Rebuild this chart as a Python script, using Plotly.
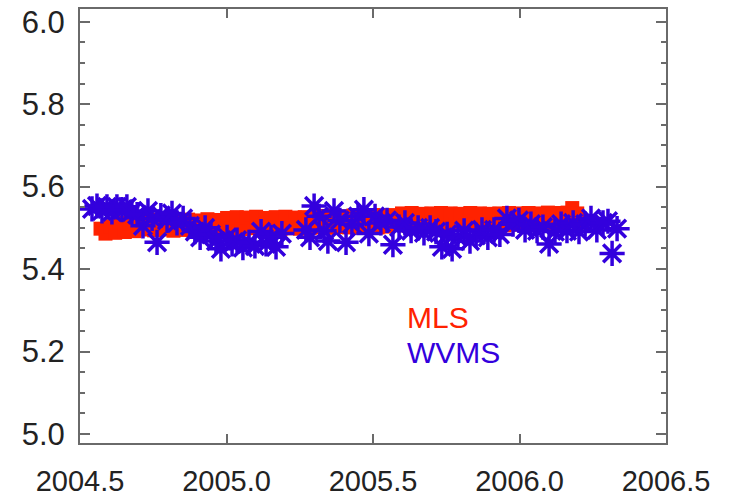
import plotly.graph_objects as go

# MLS water vapour (ppmv), dense satellite sampling
mls_year = [
    2004.570, 2004.587, 2004.603, 2004.620, 2004.636, 2004.653, 2004.670, 2004.686, 2004.703, 2004.719,
    2004.736, 2004.753, 2004.769, 2004.786, 2004.802, 2004.819, 2004.836, 2004.852, 2004.869, 2004.885,
    2004.902, 2004.919, 2004.935, 2004.952, 2004.968, 2004.985, 2005.002, 2005.018, 2005.035, 2005.051,
    2005.068, 2005.085, 2005.101, 2005.118, 2005.134, 2005.151, 2005.168, 2005.184, 2005.201, 2005.217,
    2005.234, 2005.251, 2005.267, 2005.284, 2005.300, 2005.317, 2005.334, 2005.350, 2005.367, 2005.383,
    2005.400, 2005.417, 2005.433, 2005.450, 2005.466, 2005.483, 2005.500, 2005.516, 2005.533, 2005.549,
    2005.566, 2005.583, 2005.599, 2005.616, 2005.632, 2005.649, 2005.666, 2005.682, 2005.699, 2005.715,
    2005.732, 2005.749, 2005.765, 2005.782, 2005.798, 2005.815, 2005.832, 2005.848, 2005.865, 2005.881,
    2005.898, 2005.915, 2005.931, 2005.948, 2005.964, 2005.981, 2005.998, 2006.014, 2006.031, 2006.047,
    2006.064, 2006.081, 2006.097, 2006.114, 2006.130, 2006.147, 2006.164, 2006.180, 2006.197, 2006.213,
]
mls_ppmv = [
    5.498, 5.486, 5.504, 5.488, 5.512, 5.490, 5.510, 5.492, 5.514, 5.496,
    5.520, 5.494, 5.518, 5.496, 5.521, 5.493, 5.519, 5.495, 5.520, 5.494,
    5.518, 5.496, 5.521, 5.493, 5.519, 5.495, 5.524, 5.498, 5.526, 5.497,
    5.525, 5.499, 5.527, 5.498, 5.524, 5.500, 5.526, 5.497, 5.527, 5.499,
    5.525, 5.498, 5.526, 5.500, 5.527, 5.501, 5.529, 5.500, 5.530, 5.502,
    5.528, 5.501, 5.530, 5.500, 5.529, 5.502, 5.531, 5.501, 5.530, 5.503,
    5.531, 5.507, 5.535, 5.506, 5.536, 5.508, 5.534, 5.507, 5.535, 5.509,
    5.536, 5.506, 5.535, 5.508, 5.534, 5.507, 5.536, 5.509, 5.535, 5.507,
    5.534, 5.508, 5.535, 5.506, 5.536, 5.508, 5.535, 5.509, 5.536, 5.510,
    5.535, 5.509, 5.537, 5.510, 5.536, 5.511, 5.537, 5.548, 5.535, 5.513,
]

# WVMS ground-based water vapour (ppmv)
wvms_year = [
    2004.541, 2004.558, 2004.575, 2004.592, 2004.609, 2004.626, 2004.643, 2004.660, 2004.677, 2004.695,
    2004.715, 2004.732, 2004.746, 2004.763, 2004.776, 2004.797, 2004.814, 2004.831, 2004.852, 2004.875,
    2004.892, 2004.910, 2004.927, 2004.947, 2004.964, 2004.981, 2005.002, 2005.019, 2005.036, 2005.056,
    2005.077, 2005.097, 2005.118, 2005.135, 2005.152, 2005.169, 2005.189, 2005.271, 2005.285, 2005.299,
    2005.316, 2005.333, 2005.346, 2005.367, 2005.387, 2005.408, 2005.428, 2005.449, 2005.469, 2005.486,
    2005.507, 2005.527, 2005.548, 2005.568, 2005.589, 2005.609, 2005.630, 2005.654, 2005.674, 2005.695,
    2005.715, 2005.735, 2005.753, 2005.770, 2005.790, 2005.811, 2005.831, 2005.852, 2005.872, 2005.892,
    2005.913, 2005.933, 2005.957, 2005.978, 2005.998, 2006.019, 2006.039, 2006.060, 2006.080, 2006.101,
    2006.121, 2006.142, 2006.162, 2006.183, 2006.203, 2006.224, 2006.244, 2006.264, 2006.285, 2006.302,
    2006.316, 2006.333,
]
wvms_ppmv = [
    5.546, 5.553, 5.541, 5.551, 5.539, 5.551, 5.544, 5.551, 5.539, 5.532,
    5.505, 5.541, 5.523, 5.465, 5.530, 5.518, 5.535, 5.512, 5.523, 5.505,
    5.491, 5.477, 5.500, 5.484, 5.468, 5.449, 5.477, 5.461, 5.470, 5.452,
    5.465, 5.456, 5.491, 5.461, 5.477, 5.454, 5.486, 5.495, 5.477, 5.553,
    5.528, 5.493, 5.468, 5.541, 5.518, 5.465, 5.509, 5.528, 5.544, 5.486,
    5.528, 5.512, 5.518, 5.459, 5.502, 5.512, 5.493, 5.500, 5.488, 5.500,
    5.491, 5.454, 5.484, 5.449, 5.477, 5.493, 5.468, 5.482, 5.495, 5.477,
    5.495, 5.484, 5.523, 5.509, 5.518, 5.495, 5.509, 5.493, 5.502, 5.461,
    5.491, 5.509, 5.493, 5.512, 5.491, 5.509, 5.523, 5.495, 5.512, 5.516,
    5.438, 5.498,
]

x_ticks = [2004.5, 2005.0, 2005.5, 2006.0, 2006.5]
x_labels = ["2004.5", "2005.0", "2005.5", "2006.0", "2006.5"]
y_ticks = [5.0, 5.2, 5.4, 5.6, 5.8, 6.0]
y_labels = ["5.0", "5.2", "5.4", "5.6", "5.8", "6.0"]

RED = "#ff2200"
BLUE = "#3300dd"
AXIS = "#6a6a6a"
FONT = "Liberation Sans, Arial, sans-serif"

fig = go.Figure()
fig.add_trace(go.Scatter(
    x=mls_year, y=mls_ppmv, mode="markers", name="MLS",
    marker=dict(symbol="square", size=14, color=RED, line=dict(width=0)),
))
fig.add_trace(go.Scatter(
    x=wvms_year, y=wvms_ppmv, mode="markers", name="WVMS",
    marker=dict(symbol="asterisk-open", size=21, color=BLUE,
                line=dict(width=3.5, color=BLUE)),
))

fig.add_annotation(x=2005.609, y=5.282, xref="x", yref="y", text="MLS",
                   showarrow=False, xanchor="left", yanchor="middle",
                   font=dict(family=FONT, size=30, color=RED))
fig.add_annotation(x=2005.609, y=5.198, xref="x", yref="y", text="WVMS",
                   showarrow=False, xanchor="left", yanchor="middle",
                   font=dict(family=FONT, size=30, color=BLUE))

fig.update_layout(
    width=733, height=500,
    margin=dict(l=80, r=67, t=9, b=57, autoexpand=False),
    paper_bgcolor="white", plot_bgcolor="white",
    showlegend=False,
    font=dict(family=FONT, size=31, color="#222222"),
)
fig.update_xaxes(
    range=[2004.5, 2006.5], tickvals=x_ticks, ticktext=x_labels,
    tickfont=dict(size=29),
    ticks="inside", ticklen=9, tickwidth=2, tickcolor=AXIS,
    showline=True, linecolor=AXIS, linewidth=2, mirror="ticks",
    showgrid=False, zeroline=False, ticklabelstandoff=11, automargin=False,
)
fig.update_yaxes(
    range=[4.978, 6.031], tickvals=y_ticks, ticktext=y_labels,
    ticks="inside", ticklen=10, tickwidth=2, tickcolor=AXIS,
    minor=dict(dtick=0.05, tick0=5.0, ticks="inside", ticklen=5,
               tickwidth=2, tickcolor=AXIS, showgrid=False),
    showline=True, linecolor=AXIS, linewidth=2, mirror="ticks",
    showgrid=False, zeroline=False, ticklabelstandoff=7, automargin=False,
)

fig.write_html("out.html")
